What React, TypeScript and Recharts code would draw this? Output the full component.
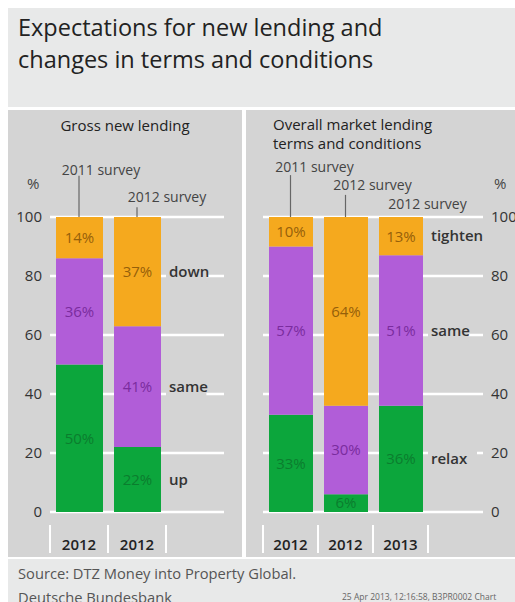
import { BarChart, Bar, XAxis, YAxis, CartesianGrid, LabelList, ReferenceLine } from "recharts";

// Gross new lending (left panel)
const leftYears = ["2012", "2012", ""];
const leftSurveys = ["2011 survey", "2012 survey"];
const leftUp = [50, 22];
const leftSame = [36, 41];
const leftDown = [14, 37];

// Overall market lending terms and conditions (right panel)
const rightYears = ["2012", "2012", "2013", ""];
const rightSurveys = ["2011 survey", "2012 survey", "2012 survey"];
const rightRelax = [33, 6, 36];
const rightSame = [57, 30, 51];
const rightTighten = [10, 64, 13];

const yTicks = [0, 20, 40, 60, 80, 100];

const FONT = "'Open Sans', 'Noto Sans', sans-serif";
const PANEL = "#d4d4d4";
const LIGHT = "#e8e9e9";
const GREEN = "#0ca63c";
const PURPLE = "#b15dd8";
const ORANGE = "#f5a91e";
const GREEN_TXT = "#0b7d2e";
const PURPLE_TXT = "#7a2c9e";
const ORANGE_TXT = "#95600a";

const leftData = leftYears.map((year, i) => ({
  id: `c${i}`,
  year,
  low: leftUp[i],
  mid: leftSame[i],
  high: leftDown[i],
}));

const rightData = rightYears.map((year, i) => ({
  id: `c${i}`,
  year,
  low: rightRelax[i],
  mid: rightSame[i],
  high: rightTighten[i],
}));

const pct = (v: any) => (v == null ? "" : `${v}%`);

function YearTick(props: any) {
  const { x, y, index, years, band } = props;
  const label = years[index];
  if (!label) return null;
  return (
    <g>
      <line x1={x - band / 2} x2={x - band / 2} y1={y + 5} y2={y + 33} stroke="#fff" strokeWidth={2} />
      <line x1={x + band / 2} x2={x + band / 2} y1={y + 5} y2={y + 33} stroke="#fff" strokeWidth={2} />
      <text x={x} y={y + 30} textAnchor="middle" fontFamily={FONT} fontSize={15} fontWeight={600} fill="#222">
        {label}
      </text>
    </g>
  );
}

const seriesName = (name: string, lastIndex: number) => (props: any) => {
  const { x, y, width, height, index } = props;
  if (index !== lastIndex) return null;
  const tx = Number(x) + Number(width) + 8;
  const ty = Number(y) + Number(height) / 2;
  const w = name.length * 8.6 + 6;
  return (
    <g>
      <rect x={tx - 3} y={ty - 11} width={w} height={22} fill={PANEL} />
      <text x={tx} y={ty + 5} fontFamily={FONT} fontSize={15} fontWeight={600} fill="#333">
        {name}
      </text>
    </g>
  );
};

const surveyLabel = (text: string, dx: number, dy: number) => (props: any) => {
  const vb = props.viewBox || {};
  return (
    <text x={vb.x + dx} y={vb.y + dy} textAnchor="middle" fontFamily={FONT} fontSize={14} fill="#444">
      {text}
    </text>
  );
};

function Panel(props: any) {
  const {
    data, years, surveys, names, width, margin, yWidth, orientation, lines,
  } = props;
  const plotW = width - margin.left - margin.right - yWidth;
  const band = plotW / years.length;
  const last = surveys.length - 1;
  return (
    <BarChart width={width} height={446} data={data} margin={margin} barSize={props.barSize}>
      <CartesianGrid vertical={false} stroke="#fff" strokeWidth={2.5} />
      <XAxis
        dataKey="id"
        axisLine={false}
        tickLine={false}
        interval={0}
        height={44}
        tick={(p: any) => <YearTick {...p} years={years} band={band} />}
      />
      <YAxis
        orientation={orientation}
        width={yWidth}
        domain={[0, 100]}
        ticks={yTicks}
        axisLine={false}
        tickLine={false}
        tick={{ fontFamily: FONT, fontSize: 15, fill: "#333", textAnchor: orientation === "right" ? "start" : "end" }}
      />
      <Bar dataKey="low" stackId="s" fill={GREEN} isAnimationActive={false}>
        <LabelList dataKey="low" position="center" formatter={pct} fill={GREEN_TXT} fontFamily={FONT} fontSize={15} />
        <LabelList dataKey="low" content={seriesName(names[0], last)} />
      </Bar>
      <Bar dataKey="mid" stackId="s" fill={PURPLE} isAnimationActive={false}>
        <LabelList dataKey="mid" position="center" formatter={pct} fill={PURPLE_TXT} fontFamily={FONT} fontSize={15} />
        <LabelList dataKey="mid" content={seriesName(names[1], last)} />
      </Bar>
      <Bar dataKey="high" stackId="s" fill={ORANGE} isAnimationActive={false}>
        <LabelList dataKey="high" position="center" formatter={pct} fill={ORANGE_TXT} fontFamily={FONT} fontSize={15} />
        <LabelList dataKey="high" content={seriesName(names[2], last)} />
      </Bar>
      {surveys.map((s: string, i: number) => (
        <ReferenceLine
          key={i}
          ifOverflow="visible"
          segment={[
            { x: `c${i}`, y: 100 },
            { x: `c${i}`, y: 100 + lines[i][0] },
          ]}
          stroke={lines[i][0] > 3 ? "#666" : "none"}
          strokeWidth={1.2}
          label={surveyLabel(s, lines[i][1], lines[i][2])}
        />
      ))}
    </BarChart>
  );
}

const abs = (left: number, top: number, extra: any = {}) => ({
  position: "absolute" as const,
  left,
  top,
  ...extra,
});

export default function App() {
  return (
    <div style={{ position: "fixed", left: 0, top: 0, width: 515, height: 602, background: "#fff", overflow: "hidden", fontFamily: FONT }}>
      <div style={abs(8, 8, { width: 507, height: 99, background: LIGHT })} />
      <div style={abs(18, 11, { fontSize: 23.5, lineHeight: "32px", color: "#222", whiteSpace: "nowrap" })}>
        Expectations for new lending and
      </div>
      <div style={abs(18, 43, { fontSize: 23.5, lineHeight: "32px", color: "#222", whiteSpace: "nowrap" })}>
        changes in terms and conditions
      </div>

      <div style={abs(8, 110, { width: 234, height: 447, background: PANEL })} />
      <div style={abs(246, 110, { width: 269, height: 447, background: PANEL })} />
      <div style={abs(8, 559, { width: 507, height: 43, background: LIGHT })} />

      <div style={abs(8, 116, { width: 234, textAlign: "center", fontSize: 15, lineHeight: "18px", color: "#222" })}>Gross new lending</div>
      <div style={abs(273, 116, { fontSize: 15, lineHeight: "16px", color: "#222", whiteSpace: "nowrap" })}>Overall market lending</div>
      <div style={abs(273, 135, { fontSize: 15, lineHeight: "16px", color: "#222", whiteSpace: "nowrap" })}>terms and conditions</div>
      <div style={abs(27, 173, { fontSize: 15, color: "#444" })}>%</div>
      <div style={abs(494, 173, { fontSize: 15, color: "#444" })}>%</div>

      <div style={abs(8, 110)}>
        <Panel
          data={leftData}
          years={leftYears}
          surveys={leftSurveys}
          names={["up", "same", "down"]}
          width={234}
          margin={{ top: 107, right: 18, bottom: 0, left: 0 }}
          yWidth={42}
          orientation="left"
          barSize={47}
          lines={[
            [14, 22, -1],
            [3.3, 30, -5],
          ]}
        />
      </div>
      <div style={abs(246, 110)}>
        <Panel
          data={rightData}
          years={rightYears}
          surveys={rightSurveys}
          names={["relax", "same", "tighten"]}
          width={269}
          margin={{ top: 107, right: 0, bottom: 0, left: 17 }}
          yWidth={32}
          orientation="right"
          barSize={44}
          lines={[
            [14.2, 24, -3],
            [7.5, 27, -5],
            [2.6, 27, 0],
          ]}
        />
      </div>

      <div style={abs(18, 563, { fontSize: 14.7, color: "#555", whiteSpace: "nowrap" })}>Source: DTZ Money into Property Global.</div>
      <div style={abs(18, 587, { fontSize: 14.7, color: "#555", whiteSpace: "nowrap" })}>Deutsche Bundesbank</div>
      <div style={abs(342, 591, { fontSize: 8.5, color: "#666", whiteSpace: "nowrap" })}>
        25 Apr 2013, 12:16:58, B3PR0002 Chart
      </div>
    </div>
  );
}
